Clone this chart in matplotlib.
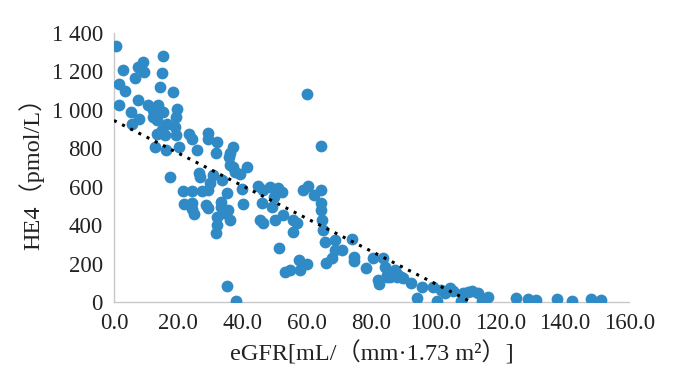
import numpy as np
import matplotlib
matplotlib.use("Agg")
from matplotlib import pyplot as plt

# eGFR values (x) and HE4 values (y)
egfr = [0.5, 2.9, 1.6, 3.4, 1.6, 5.2, 5.7, 7.8, 7.4, 6.5, 7.5, 8.9, 9.4,
        15.3, 14.8, 14.4, 18.4, 10.7, 12.2, 13.8, 12.0, 13.3, 15.3, 16.4,
        14.8, 13.3, 15.8, 12.9, 16.1, 19.5, 19.3, 18.9, 19.3, 20.3, 17.4,
        23.4, 24.1, 25.7, 29.3, 29.3, 31.9, 31.7, 37.1, 36.0, 35.8, 36.0,
        37.1, 41.2, 39.3, 37.6, 26.4, 26.7, 21.5, 24.1, 27.2, 29.3, 29.8,
        30.8, 21.8, 24.1, 24.4, 24.9, 28.5, 29.3, 31.9, 32.1, 31.7, 33.4,
        33.4, 33.9, 35.5, 36.0, 35.0, 39.7, 40.0, 35.0, 37.9, 33.7, 44.8,
        46.4, 45.9, 45.3, 46.2, 48.4, 49.7, 49.2, 51.0, 52.1, 50.0, 52.6,
        51.3, 53.1, 54.7, 55.7, 55.7, 57.0, 57.8, 57.6, 60.0, 58.6, 60.4,
        62.0, 60.0, 64.2, 64.3, 64.2, 64.3, 64.5, 64.8, 65.5, 66.0, 67.6,
        68.6, 68.6, 70.7, 73.8, 74.5, 74.5, 78.3, 80.3, 82.1, 82.4, 83.6,
        84.2, 84.7, 85.7, 87.3, 88.3, 89.3, 92.4, 94.2, 95.6, 99.2, 100.2,
        101.7, 102.8, 105.4, 107.7, 108.5, 111.1, 113.1, 114.2, 116.2,
        124.8, 128.7, 131.1, 137.5, 142.1, 148.0, 151.1, 84.7, 87.8, 89.8,
        104.5, 110.0]
he4 = [1335, 1210, 1137, 1099, 1024, 990, 929, 952, 1054, 1168, 1224, 1250,
       1198, 1279, 1192, 1120, 1094, 1024, 998, 1024, 964, 946, 990, 929,
       894, 877, 868, 808, 790, 1007, 964, 912, 868, 808, 648, 877, 851, 790,
       880, 846, 834, 776, 808, 773, 756, 712, 704, 704, 666, 678, 669, 652,
       579, 579, 579, 582, 617, 660, 508, 513, 482, 456, 504, 487, 444, 400,
       357, 522, 496, 461, 478, 426, 565, 586, 508, 85, 5, 634, 603, 582, 513,
       426, 409, 600, 548, 496, 591, 574, 426, 452, 282, 158, 166, 426, 366,
       409, 166, 218, 196, 582, 603, 556, 1085, 811, 582, 513, 478, 426, 374,
       314, 201, 227, 270, 322, 270, 326, 232, 215, 175, 227, 114, 94, 227,
       184, 140, 128, 166, 140, 132, 97, 22, 80, 80, 5, 62, 45, 59, 5, 45, 59,
       48, 5, 24, 22, 14, 10, 14, 5, 14, 10, 132, 132, 123, 70, 50]

# linear trend line
trend_intercept = 945
trend_slope = -8.52

x_ticks = [0, 20, 40, 60, 80, 100, 120, 140, 160]
y_ticks = [0, 200, 400, 600, 800, 1000, 1200, 1400]
y_tick_labels = ['0', '200', '400', '600', '800', '1 000', '1 200', '1 400']

fonts = ['Liberation Serif', 'Noto Sans CJK SC']

fig = plt.figure(figsize=(6.78, 3.76), dpi=100)
ax = fig.add_axes([0.168, 0.197, 0.76, 0.715])

ax.scatter(egfr, he4, s=72, color='#2f8ac5', linewidths=0, zorder=3)

x_end = -trend_intercept / trend_slope
tx = np.array([0, x_end])
ax.plot(tx, trend_intercept + trend_slope * tx, color='black',
        linestyle=(0, (1, 2)), linewidth=2.2, zorder=4)

ax.set_xlim(0, 160)
ax.set_ylim(0, 1400)
ax.set_xticks(x_ticks)
ax.set_xticklabels(['%.1f' % v for v in x_ticks], family=fonts, fontsize=16.5)
ax.set_yticks(y_ticks)
ax.set_yticklabels(y_tick_labels, family=fonts, fontsize=16.5)
ax.tick_params(length=0, colors='#222222')
ax.tick_params(axis='x', pad=8)
ax.tick_params(axis='y', pad=8)

for side in ['top', 'right']:
    ax.spines[side].set_visible(False)
for side in ['left', 'bottom']:
    ax.spines[side].set_color('#c8c8c8')
    ax.spines[side].set_linewidth(1)

ax.set_xlabel('eGFR[mL/（mm·1.73 m²）]', family=fonts, fontsize=17.5,
              labelpad=5, color='#222222')
ax.set_ylabel('HE4（pmol/L）', family=fonts, fontsize=17.5, labelpad=5,
              color='#222222')

fig.savefig('out.png', dpi=100)
